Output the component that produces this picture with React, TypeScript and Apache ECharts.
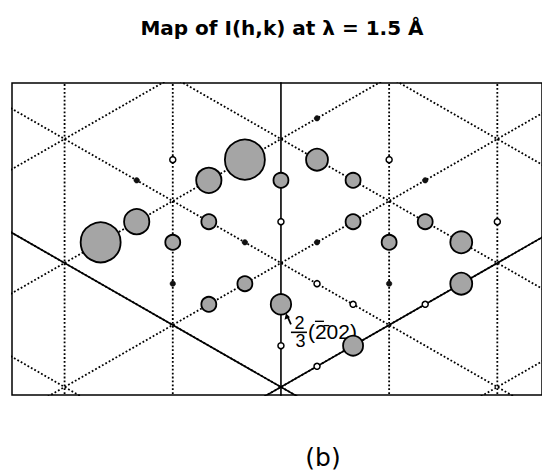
import React, { useEffect, useRef } from "react";
import * as echarts from "echarts";

// Lattice geometry (x in column units, y in half-row units)
const dottedColumns = [-2, -1, 1, 2];
const solidColumns = [0];
const diagonalOffsets = [-3, -2, -1, 0, 1, 2, 3]; // lines y = +x + 2k and y = -x + 2k
const solidRising = [-1]; // y = x + 2k drawn solid
const solidFalling = [-1]; // y = -x + 2k drawn solid

// Shaded reflections: positions in thirds of a lattice step, intensity I(h,k)
const strongH = [-5, -1, -4, -2, 1, 5, 5, 0, 2, 0, 2, 2, 4, 3, -3, -2, -1, -2];
const strongK = [1, 5, 2, 4, 5, 1, -1, -2, -4, 4, 4, 2, 2, 1, 1, 2, -1, -2];
const strongI = [100, 100, 40, 40, 30, 30, 30, 26, 25, 14, 14, 14, 14, 14, 14, 14, 14, 14];

// Very weak reflections (filled dots)
const weakH = [-4, -1, 1, 4, -3, 3, 1];
const weakK = [4, 1, 7, 4, -1, -1, 1];

// Extinct reflections (open rings)
const absentH = [-3, 0, 3, 6, 1, 2, 4, 0, 1];
const absentK = [5, 2, 5, 2, -1, -2, -2, -4, -5];

// Annotated reflection
const markedH = 0;
const markedK = -2;

const TITLE = "Map of I(h,k) at \u03bb = 1.5 \u00c5";
const PANEL = "(b)";

const X_MIN = -2.486;
const X_MAX = 2.413;
const Y_MIN = -2.129;
const Y_MAX = 2.903;

const dotted = { color: "#000", width: 1.8, type: [1.8, 2.1] as any };
const solid = { color: "#000", width: 1.6, type: "solid" as const };

function lineSeries(data: number[][], style: any) {
  return {
    type: "line",
    data,
    symbol: "none",
    silent: true,
    clip: true,
    z: 1,
    lineStyle: style,
    animation: false,
  };
}

export default function App() {
  const ref = useRef<HTMLDivElement>(null);

  useEffect(() => {
    const el = ref.current!;
    const chart = echarts.init(el, null, { renderer: "svg" });

    const series: any[] = [];
    dottedColumns.forEach((c) => series.push(lineSeries([[c, -4], [c, 5]], dotted)));
    diagonalOffsets.forEach((k) => {
      series.push(lineSeries([[-4, -4 + 2 * k], [4, 4 + 2 * k]], dotted));
      series.push(lineSeries([[-4, 4 + 2 * k], [4, -4 + 2 * k]], dotted));
    });
    solidColumns.forEach((c) => series.push(lineSeries([[c, -4], [c, 5]], solid)));
    solidRising.forEach((k) => series.push(lineSeries([[-4, -4 + 2 * k], [4, 4 + 2 * k]], solid)));
    solidFalling.forEach((k) => series.push(lineSeries([[-4, 4 + 2 * k], [4, -4 + 2 * k]], solid)));

    series.push({
      type: "scatter",
      data: strongH.map((h, i) => [h / 3, strongK[i] / 3, strongI[i]]),
      symbol: "circle",
      symbolSize: (v: number[]) => 4 * Math.sqrt(v[2]),
      itemStyle: { color: "#a5a5a5", borderColor: "#000", borderWidth: 1.8, opacity: 1 },
      z: 3,
      silent: true,
    });
    series.push({
      type: "scatter",
      data: weakH.map((h, i) => [h / 3, weakK[i] / 3]),
      symbol: "circle",
      symbolSize: 5.5,
      itemStyle: { color: "#111", borderColor: "#000", borderWidth: 0.5, opacity: 1 },
      z: 3,
      silent: true,
    });
    series.push({
      type: "scatter",
      data: absentH.map((h, i) => [h / 3, absentK[i] / 3]),
      symbol: "circle",
      symbolSize: 6,
      itemStyle: { color: "#fff", borderColor: "#000", borderWidth: 1.5, opacity: 1 },
      z: 3,
      silent: true,
    });

    const option: any = {
      animation: false,
      backgroundColor: "#fff",
      grid: {
        show: true,
        left: 12,
        top: 83,
        right: -4,
        bottom: 77,
        borderColor: "#000",
        borderWidth: 1.5,
        backgroundColor: "transparent",
      },
      xAxis: { type: "value", min: X_MIN, max: X_MAX, show: false },
      yAxis: { type: "value", min: Y_MIN, max: Y_MAX, show: false },
      series,
    };
    chart.setOption(option);

    const [px, py] = chart.convertToPixel({ gridIndex: 0 }, [markedH / 3, markedK / 3]) as number[];
    const sans = '"DejaVu Sans", sans-serif';
    const hand = '"Liberation Sans", Arial, sans-serif';

    chart.setOption({
      graphic: [
        {
          type: "text",
          x: 282,
          y: 28,
          style: {
            text: TITLE,
            fill: "#000",
            font: `bold 20px ${sans}`,
            align: "center",
            verticalAlign: "middle",
            textAlign: "center",
            textVerticalAlign: "middle",
          },
        },
        {
          type: "text",
          x: 323,
          y: 457,
          style: {
            text: PANEL,
            fill: "#000",
            font: `25px ${sans}`,
            align: "center",
            verticalAlign: "middle",
            textAlign: "center",
            textVerticalAlign: "middle",
          },
        },
        {
          type: "group",
          x: px,
          y: py,
          z: 10,
          children: [
            {
              type: "line",
              shape: { x1: 10, y1: 20, x2: 6.5, y2: 12 },
              style: { stroke: "#000", lineWidth: 1.7 },
            },
            {
              type: "polygon",
              shape: { points: [[5, 9], [3.6, 15.5], [9, 13]] },
              style: { fill: "#000" },
            },
            {
              type: "text",
              x: 18.5,
              y: 19,
              style: {
                text: "2",
                fill: "#000",
                font: `18px ${hand}`,
                align: "center",
                verticalAlign: "middle",
                textAlign: "center",
                textVerticalAlign: "middle",
              },
            },
            {
              type: "line",
              shape: { x1: 10, y1: 28, x2: 26, y2: 28 },
              style: { stroke: "#000", lineWidth: 1.6 },
            },
            {
              type: "text",
              x: 19.5,
              y: 37,
              style: {
                text: "3",
                fill: "#000",
                font: `18px ${hand}`,
                align: "center",
                verticalAlign: "middle",
                textAlign: "center",
                textVerticalAlign: "middle",
              },
            },
            {
              type: "text",
              x: 27,
              y: 27,
              style: {
                text: "(2\u030402)",
                fill: "#000",
                font: `21px ${hand}`,
                align: "left",
                verticalAlign: "middle",
                textAlign: "left",
                textVerticalAlign: "middle",
              },
            },
            // overbar on the first index
            {
              type: "line",
              shape: { x1: 34, y1: 17, x2: 43, y2: 17 },
              style: { stroke: "#000", lineWidth: 1.4 },
            },
          ],
        },
      ],
    });

    return () => chart.dispose();
  }, []);

  return (
    <div
      ref={ref}
      style={{ position: "absolute", left: 0, top: 0, width: 542, height: 472 }}
    />
  );
}
